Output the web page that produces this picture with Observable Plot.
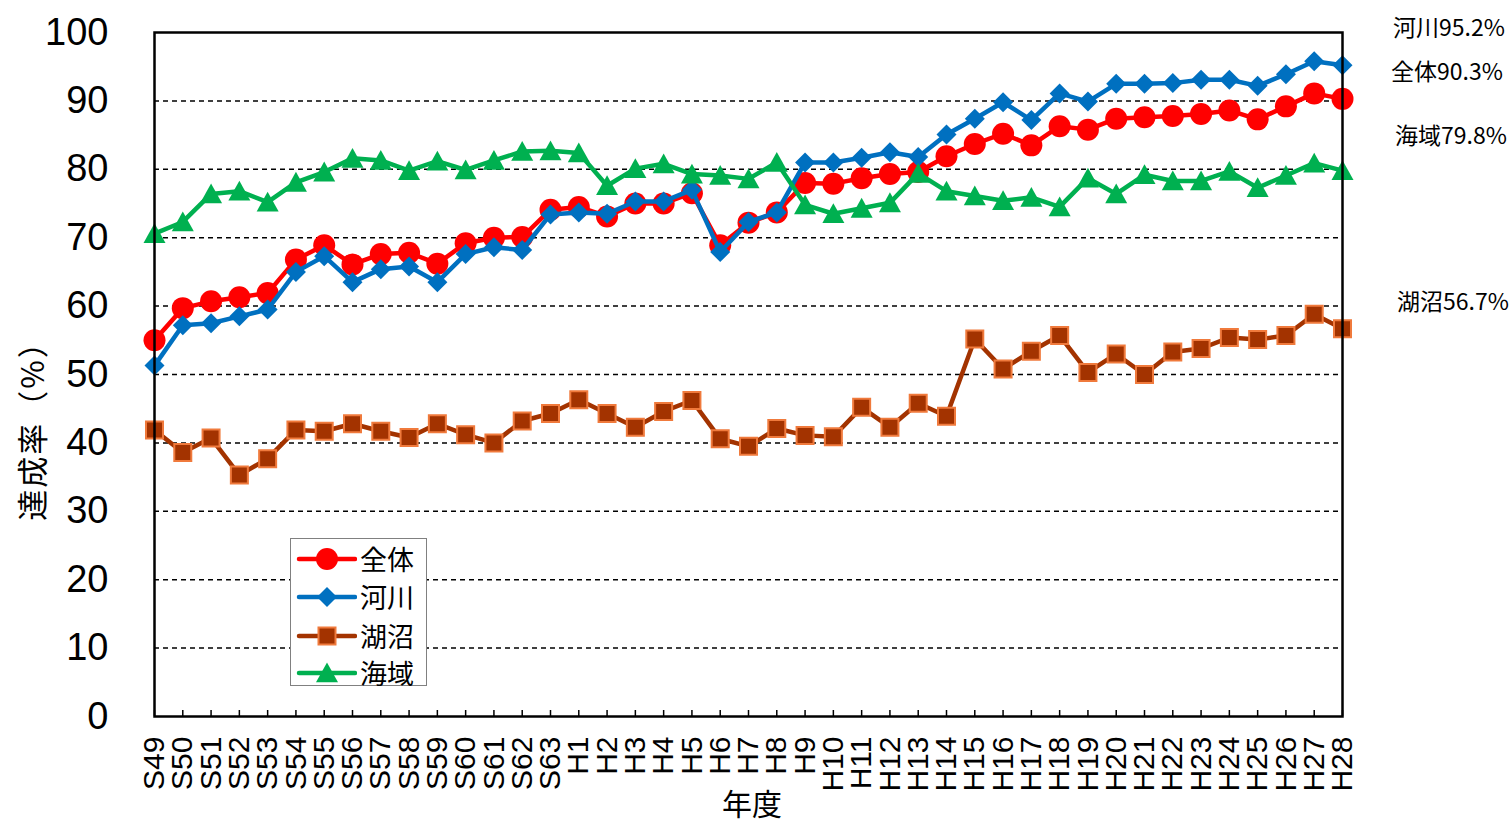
<!DOCTYPE html>
<html>
<head>
<meta charset="utf-8">
<script src="https://cdn.jsdelivr.net/npm/d3@7"></script>
<script src="https://cdn.jsdelivr.net/npm/@observablehq/plot@0.6"></script>
<style>
  body { margin: 0; background: white; }
  #wrap { position: relative; width: 1510px; height: 826px; overflow: hidden; }
  .cjk { font-family: "Noto Sans CJK JP", "Noto Sans", sans-serif; color: black; position: absolute; white-space: nowrap; }
  #legend { position: absolute; left: 290px; top: 538px; width: 137px; height: 148px; border: 1px solid #808080; background: white; box-sizing: border-box; }
  .lrow { position: absolute; left: 0; height: 38px; display: flex; align-items: center; }
  .lrow span { font-family: "Noto Sans CJK JP", sans-serif; font-size: 27px; line-height: 38px; margin-left: 3px; }
</style>
</head>
<body>
<div id="wrap"></div>
<script>
const categories = ["S49","S50","S51","S52","S53","S54","S55","S56","S57","S58","S59","S60","S61","S62","S63",
  "H1","H2","H3","H4","H5","H6","H7","H8","H9","H10","H11","H12","H13","H14","H15","H16","H17","H18","H19","H20",
  "H21","H22","H23","H24","H25","H26","H27","H28"];
const zentai = [55.0,59.7,60.7,61.3,61.9,66.8,68.9,66.1,67.6,67.8,66.2,69.2,70.0,70.1,74.1,
  74.5,73.1,75.0,75.0,76.5,68.9,72.2,73.7,78.0,77.9,78.7,79.3,79.6,81.9,83.7,85.2,83.5,86.3,85.8,87.4,
  87.6,87.8,88.1,88.6,87.3,89.2,91.1,90.3];
const kasen = [51.3,57.2,57.5,58.5,59.5,65.0,67.3,63.5,65.4,65.8,63.5,67.6,68.6,68.2,73.4,
  73.7,73.5,75.3,75.3,77.0,67.9,72.3,73.7,81.0,81.0,81.7,82.5,81.8,85.1,87.4,89.8,87.2,91.1,89.9,92.5,
  92.5,92.6,93.1,93.1,92.2,93.9,95.8,95.2];
const koshou = [41.9,38.6,40.7,35.3,37.7,41.9,41.7,42.8,41.7,40.8,42.8,41.2,40.0,43.2,44.3,
  46.3,44.3,42.3,44.6,46.2,40.6,39.5,42.1,41.1,40.9,45.2,42.3,45.8,43.9,55.2,50.8,53.4,55.7,50.3,53.0,
  50.0,53.3,53.8,55.4,55.1,55.7,58.8,56.7];
const kaiiki = [70.6,72.3,76.4,76.8,75.2,78.1,79.6,81.6,81.3,79.8,81.2,79.9,81.3,82.6,82.7,
  82.4,77.6,80.1,80.8,79.3,79.1,78.6,81.0,74.8,73.5,74.3,75.1,79.4,76.8,76.1,75.4,75.9,74.5,78.7,76.4,
  79.2,78.3,78.3,79.7,77.3,79.1,80.9,79.8];
const seriesNames = ["全体","河川","湖沼","海域"];
const endLabels = ["河川95.2%","全体90.3%","海域79.8%","湖沼56.7%"];
const yTicks = [0,10,20,30,40,50,60,70,80,90,100];
const yTitle = "達成率（%）";
const xTitle = "年度";

const rows = (vals) => categories.map((c, i) => ({cat: c, v: vals[i]}));

const diamond = {draw(ctx, size) { const r = Math.sqrt(size / Math.PI); ctx.moveTo(0, -r); ctx.lineTo(r, 0); ctx.lineTo(0, r); ctx.lineTo(-r, 0); ctx.closePath(); }};
const square = {draw(ctx, size) { const r = Math.sqrt(size / Math.PI); ctx.rect(-r, -r, 2 * r, 2 * r); }};
const triangle = {draw(ctx, size) { const r = Math.sqrt(size / Math.PI); ctx.moveTo(0, -0.95 * r); ctx.lineTo(r, 0.85 * r); ctx.lineTo(-r, 0.85 * r); ctx.closePath(); }};

const styles = [
  {vals: zentai, line: "#FF0000", fill: "#FF0000", stroke: "none", symbol: "circle", r: 11},
  {vals: kasen, line: "#0070C0", fill: "#0070C0", stroke: "none", symbol: diamond, r: 10},
  {vals: koshou, line: "#A33300", fill: "#A33300", stroke: "#F07A3C", symbol: square, r: 8.5},
  {vals: kaiiki, line: "#00B050", fill: "#00B050", stroke: "none", symbol: triangle, r: 11}
];

const seriesMarks = styles.flatMap(s => [
  Plot.line(rows(s.vals), {x: "cat", y: "v", stroke: s.line, strokeWidth: 4.5}),
  Plot.dot(rows(s.vals), {x: "cat", y: "v", symbol: s.symbol, r: s.r, fill: s.fill, stroke: s.stroke, strokeWidth: s.stroke === "none" ? 0 : 2})
]);

const chart = Plot.plot({
  width: 1510,
  height: 826,
  marginLeft: 154,
  marginRight: 168,
  marginTop: 32,
  marginBottom: 110,
  x: {type: "point", domain: categories, padding: 0, round: false, label: null},
  y: {domain: [0, 100], label: null},
  style: {fontFamily: "'Liberation Sans', Arial, sans-serif", color: "black", background: "white", overflow: "visible"},
  marks: [
    Plot.gridY(yTicks.filter(d => d > 0 && d < 100), {stroke: "black", strokeOpacity: 1, strokeWidth: 1.5, strokeDasharray: "5,4"}),
    Plot.axisY(yTicks, {tickSize: 0, tickPadding: 46, fontSize: 38, label: null}),
    Plot.axisX({tickRotate: -90, tickSize: 0, tickPadding: 20, fontSize: 30, label: null}),
    Plot.axisX({tickSize: -6, text: null, label: null, stroke: "black", strokeWidth: 1.5}),
    ...seriesMarks,
    Plot.frame({stroke: "black", strokeWidth: 2.5})
  ]
});

const wrap = document.getElementById("wrap");
wrap.appendChild(chart);

function addText(txt, left, top, size, extra) {
  const d = document.createElement("div");
  d.className = "cjk";
  d.textContent = txt;
  d.style.left = left + "px";
  d.style.top = top + "px";
  d.style.fontSize = size + "px";
  d.style.lineHeight = "1";
  if (extra) Object.assign(d.style, extra);
  wrap.appendChild(d);
  return d;
}
// axis titles
addText(xTitle, 722, 787, 30);
addText(yTitle, 30, 423, 31, {transform: "translate(-50%, -50%) rotate(-90deg)", transformOrigin: "50% 50%", letterSpacing: "2px"});
// end labels
const endTops = [15, 59, 123, 289];
const endLefts = [1393, 1391, 1395, 1397];
endLabels.forEach((t, i) => addText(t, endLefts[i], endTops[i], 23));

// legend
const legend = document.createElement("div");
legend.id = "legend";
const rowTops = [1, 39, 78, 115];
seriesNames.forEach((name, i) => {
  const s = styles[i];
  const row = document.createElement("div");
  row.className = "lrow";
  row.style.top = rowTops[i] + "px";
  const svg = d3.create("svg").attr("width", 66).attr("height", 38);
  svg.append("line").attr("x1", 8).attr("x2", 64).attr("y1", 19).attr("y2", 19)
    .attr("stroke", s.line).attr("stroke-width", 4.5).attr("stroke-linecap", "round");
  const sym = typeof s.symbol === "string" ? d3.symbolCircle : s.symbol;
  svg.append("path").attr("transform", "translate(36,19)")
    .attr("d", d3.symbol(sym, Math.PI * s.r * s.r)())
    .attr("fill", s.fill).attr("stroke", s.stroke).attr("stroke-width", s.stroke === "none" ? 0 : 2);
  row.appendChild(svg.node());
  const sp = document.createElement("span");
  sp.textContent = name;
  row.appendChild(sp);
  legend.appendChild(row);
});
wrap.appendChild(legend);
</script>
</body>
</html>
